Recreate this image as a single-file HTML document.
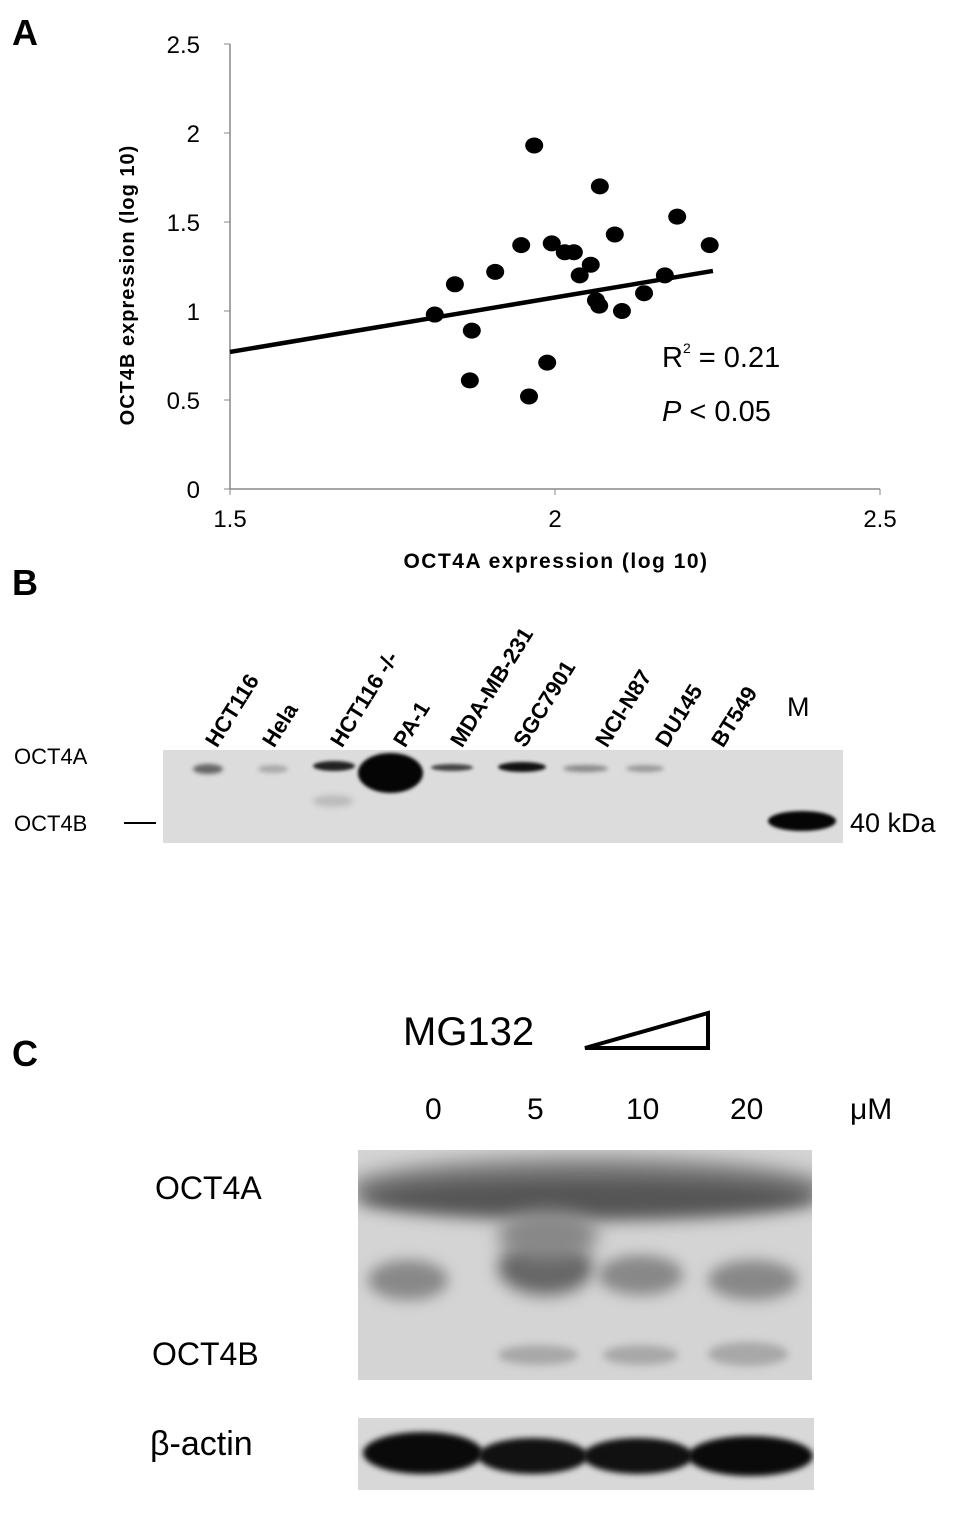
<!DOCTYPE html>
<html><head><meta charset="utf-8"><style>
body{margin:0;background:#fff;width:969px;height:1525px;position:relative;overflow:hidden;font-family:"Liberation Sans",sans-serif}
.a{position:absolute}
.blob{position:absolute;border-radius:50%}
</style></head><body>
<div class="a" style="left:12px;top:12px;font-size:36px;font-weight:bold">A</div>
<div class="a" style="left:12px;top:562px;font-size:36px;font-weight:bold">B</div>
<div class="a" style="left:12px;top:1033px;font-size:36px;font-weight:bold">C</div>

<svg class="a" style="left:0;top:0" width="969" height="600">
<g id="axes"></g><g id="pts"></g>
<text transform="rotate(-90 134 285)" x="134" y="285" font-size="20" font-weight="bold" letter-spacing="1" text-anchor="middle" font-family="Liberation Sans">OCT4B expression (log 10)</text>
<text x="556" y="568" font-size="21" font-weight="bold" letter-spacing="1.5" text-anchor="middle" font-family="Liberation Sans">OCT4A expression (log 10)</text>
<text x="662" y="367" font-size="29" font-family="Liberation Sans">R<tspan font-size="14" dy="-14">2</tspan><tspan dy="14"> = 0.21</tspan></text>
<text x="662" y="421" font-size="29" font-family="Liberation Sans"><tspan font-style="italic">P</tspan> &lt; 0.05</text>
</svg>

<!-- Panel B -->
<div class="a" style="left:163px;top:750px;width:680px;height:93px;background:#dcdcdc;overflow:hidden">
 <div class="blob" style="left:30px;top:14px;width:30px;height:10px;background:#666;filter:blur(2px)"></div>
 <div class="blob" style="left:95px;top:15px;width:30px;height:8px;background:#aaa;filter:blur(2px)"></div>
 <div class="blob" style="left:150px;top:11px;width:42px;height:10px;background:#222;filter:blur(1.5px)"></div>
 <div class="blob" style="left:195px;top:3px;width:65px;height:40px;background:#050505;filter:blur(1.5px)"></div>
 <div class="blob" style="left:268px;top:14px;width:42px;height:7px;background:#444;filter:blur(1.5px)"></div>
 <div class="blob" style="left:335px;top:12px;width:48px;height:10px;background:#111;filter:blur(1.5px)"></div>
 <div class="blob" style="left:400px;top:15px;width:45px;height:7px;background:#888;filter:blur(2px)"></div>
 <div class="blob" style="left:463px;top:15px;width:38px;height:7px;background:#999;filter:blur(2px)"></div>
 <div class="blob" style="left:150px;top:45px;width:40px;height:12px;background:#bbb;filter:blur(3px)"></div>
 <div class="blob" style="left:605px;top:61px;width:68px;height:20px;background:#050505;filter:blur(1.5px)"></div>
</div>
<div class="a" style="left:14px;top:744px;font-size:22px">OCT4A</div>
<div class="a" style="left:14px;top:811px;font-size:22px">OCT4B</div>
<div class="a" style="left:124px;top:822px;width:32px;height:2px;background:#000"></div>
<div class="a" style="left:850px;top:808px;font-size:27px">40 kDa</div>
<div class="a" style="left:787px;top:692px;font-size:27px">M</div>
<div id="lanes"></div>

<!-- Panel C -->
<div class="a" style="left:403px;top:1010px;font-size:40px">MG132</div>
<svg class="a" style="left:580px;top:1010px" width="135" height="42"><polygon points="5,38 128,3 128,38" fill="none" stroke="#000" stroke-width="4"/></svg>
<div class="a" style="left:425px;top:1093px;font-size:30px">0</div>
<div class="a" style="left:527px;top:1093px;font-size:30px">5</div>
<div class="a" style="left:626px;top:1093px;font-size:30px">10</div>
<div class="a" style="left:730px;top:1093px;font-size:30px">20</div>
<div class="a" style="left:850px;top:1093px;font-size:30px">μM</div>
<div class="a" style="left:155px;top:1170px;font-size:32px">OCT4A</div>
<div class="a" style="left:152px;top:1336px;font-size:32px">OCT4B</div>
<div class="a" style="left:150px;top:1425px;font-size:34px">β-actin</div>
<div class="a" style="left:358px;top:1150px;width:454px;height:230px;background:#d4d4d4;overflow:hidden">
 <div class="blob" style="left:-10px;top:8px;width:480px;height:60px;background:#777;filter:blur(10px)"></div>
 <div class="blob" style="left:0px;top:30px;width:460px;height:36px;background:#555;filter:blur(8px)"></div>
 <div class="blob" style="left:10px;top:110px;width:80px;height:40px;background:#888;filter:blur(7px)"></div>
 <div class="blob" style="left:140px;top:90px;width:95px;height:55px;background:#666;filter:blur(8px)"></div>
 <div class="blob" style="left:240px;top:105px;width:85px;height:40px;background:#888;filter:blur(7px)"></div>
 <div class="blob" style="left:350px;top:110px;width:90px;height:40px;background:#888;filter:blur(7px)"></div>
 <div class="blob" style="left:140px;top:60px;width:100px;height:50px;background:#888;filter:blur(9px)"></div>
 <div class="blob" style="left:140px;top:195px;width:80px;height:20px;background:#a8a8a8;filter:blur(4px)"></div>
 <div class="blob" style="left:245px;top:195px;width:75px;height:20px;background:#a8a8a8;filter:blur(4px)"></div>
 <div class="blob" style="left:350px;top:192px;width:80px;height:24px;background:#a8a8a8;filter:blur(4px)"></div>
</div>
<div class="a" style="left:358px;top:1418px;width:456px;height:72px;background:#d8d8d8;overflow:hidden">
 <div class="blob" style="left:5px;top:14px;width:120px;height:42px;background:#0a0a0a;filter:blur(3px)"></div>
 <div class="blob" style="left:120px;top:20px;width:110px;height:36px;background:#111;filter:blur(3px)"></div>
 <div class="blob" style="left:225px;top:20px;width:110px;height:36px;background:#111;filter:blur(3px)"></div>
 <div class="blob" style="left:330px;top:18px;width:125px;height:40px;background:#0a0a0a;filter:blur(3px)"></div>
</div>

<script>
const xTicks=[1.5,2,2.5];
const yTicks=[0,0.5,1,1.5,2,2.5];
const ptX=[1.968,2.069,2.188,2.092,2.238,1.948,1.995,2.015,2.029,2.055,1.908,2.038,2.169,1.846,2.137,2.063,2.068,2.103,1.815,1.872,1.988,1.869,1.960];
const ptY=[1.93,1.70,1.53,1.43,1.37,1.37,1.38,1.33,1.33,1.26,1.22,1.20,1.20,1.15,1.10,1.06,1.03,1.00,0.98,0.89,0.71,0.61,0.52];
const trendX=[1.5,2.243];
const trendY=[0.77,1.225];
const laneNames=["HCT116","Hela","HCT116 -/-","PA-1","MDA-MB-231","SGC7901","NCI-N87","DU145","BT549"];

const NS="http://www.w3.org/2000/svg";
const sx=v=>230+(v-1.5)*650, sy=v=>489-v*178;
const ax=document.getElementById('axes'), pts=document.getElementById('pts');
function mk(tag,attrs,parent){const e=document.createElementNS(NS,tag);for(const k in attrs)e.setAttribute(k,attrs[k]);parent.appendChild(e);return e;}
let l=mk('line',{x1:230,y1:44,x2:230,y2:489,stroke:'#888','stroke-width':1.5},ax);


l=mk('line',{x1:230,y1:489,x2:880,y2:489,stroke:'#888','stroke-width':1.5},ax);


yTicks.forEach(t=>{mk('line',{x1:224,x2:230,y1:sy(t),y2:sy(t),stroke:'#888'},ax);
 const e=mk('text',{x:200,y:sy(t)+9,'font-size':24,'text-anchor':'end','font-family':'Liberation Sans'},ax);e.textContent=t;
 
 });
xTicks.forEach(t=>{mk('line',{x1:sx(t),x2:sx(t),y1:489,y2:495,stroke:'#888'},ax);
 const e=mk('text',{x:sx(t),y:527,'font-size':24,'text-anchor':'middle','font-family':'Liberation Sans'},ax);e.textContent=t;
 
 });
const tl=mk('line',{x1:sx(trendX[0]),y1:sy(trendY[0]),x2:sx(trendX[1]),y2:sy(trendY[1]),stroke:'#000','stroke-width':4.5},pts);


ptX.forEach((x,i)=>{const c=mk('ellipse',{cx:sx(x),cy:sy(ptY[i]),rx:9,ry:8,fill:'#000'},pts);
 
 });
const laneX=[200,257,325,388,445,508,590,650,706];
const lanes=document.getElementById('lanes');
laneNames.forEach((n,i)=>{const d=document.createElement('div');d.className='a';d.textContent=n;
 d.style.cssText=`left:${laneX[i]}px;top:738px;font-size:22px;font-weight:bold;transform-origin:0 0;transform:rotate(-58deg);white-space:nowrap`;
 
 
 lanes.appendChild(d);});
</script>
</body></html>
